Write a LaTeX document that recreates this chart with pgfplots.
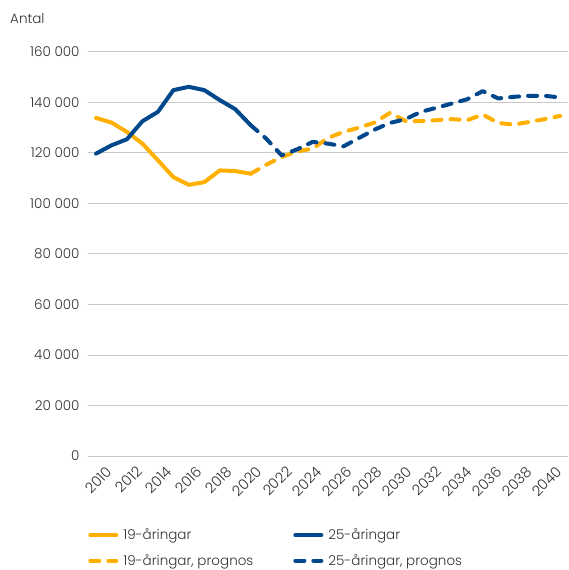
\documentclass[border=0pt]{standalone}
\usepackage{pgfplots}
\pgfplotsset{compat=1.18}
\usepackage{fontspec}
\setmainfont{Poppins}[UprightFont={* Light}]
\definecolor{cyel}{HTML}{FFB000}
\definecolor{cblue}{HTML}{00478C}
\definecolor{ctxt}{HTML}{333333}
\definecolor{cgrid}{HTML}{C8C8C8}
\begin{document}
\begin{tikzpicture}
\useasboundingbox (-88pt,-114pt) rectangle (480pt,456pt);
\begin{axis}[
  at={(0,0)}, anchor=south west,
  scale only axis, width=480pt, height=404pt,
  xmin=2009.48, xmax=2040.51, ymin=0, ymax=160000,
  axis line style={draw=none},
  tick style={draw=none},
  ymajorgrids, grid style={cgrid, line width=1pt},
  scaled y ticks=false,
  ytick={0,20000,40000,60000,80000,100000,120000,140000,160000},
  yticklabels={0,20 000,40 000,60 000,80 000,100 000,120 000,140 000,160 000},
  xtick={2010.33,2012.27,2014.21,2016.15,2018.09,2020.03,2021.97,2023.91,2025.85,2027.78,2029.72,2031.66,2033.60,2035.54,2037.48,2039.42},
  xticklabels={2010,2012,2014,2016,2018,2020,2022,2024,2026,2028,2030,2032,2034,2036,2038,2040},
  yticklabel style={font=\fontsize{13.5}{16}\selectfont, color=ctxt, xshift=-5pt},
  xticklabel style={font=\fontsize{14.5}{16}\selectfont, color=ctxt, rotate=45, anchor=north east, yshift=-6pt},
  legend columns=2,
  legend cell align=left,
  legend style={draw=none, fill=none, at={(-0.006,-0.17)}, anchor=north west,
    font=\fontsize{13.5}{16}\selectfont, text=ctxt,
    /tikz/every even column/.append style={column sep=38pt},
    row sep=9pt},
  legend image code/.code={\draw[#1, line width=4pt] (0pt,0pt) -- (26pt,0pt); \path (29pt,0pt);},
  clip=false,
]
\addplot[cyel, line width=4pt, line join=round, line cap=round] coordinates {
(2010,133900)(2011,132050)(2012,128350)(2013,123700)(2014,117100)(2015,110450)(2016,107400)(2017,108450)(2018,113100)(2019,112850)(2020,111800)};
\addlegendentry{19-åringar}
\addplot[cblue, line width=4pt, line join=round, line cap=round] coordinates {
(2010,119750)(2011,123050)(2012,125450)(2013,132600)(2014,136300)(2015,144900)(2016,146200)(2017,144900)(2018,140950)(2019,137350)(2020,131000)};
\addlegendentry{25-åringar}
\addplot[cyel, line width=4pt, line join=round, line cap=round, dash pattern=on 9pt off 9pt] coordinates {
(2020,111800)(2021,115350)(2022,118400)(2023,120650)(2024,121700)(2025,126000)(2026,128350)(2027,130050)(2028,132050)(2029,135900)(2030,132700)(2031,132600)(2032,133000)(2033,133400)(2034,133000)(2035,135250)(2036,131900)(2037,131250)(2038,132300)(2039,133400)(2040,134700)};
\addlegendentry{19-åringar, prognos}
\addplot[cblue, line width=4pt, line join=round, line cap=round, dash pattern=on 9pt off 9pt] coordinates {
(2020,131000)(2021,125700)(2022,119050)(2023,121450)(2024,124400)(2025,123700)(2026,122650)(2027,125950)(2028,129250)(2029,131900)(2030,133400)(2031,136300)(2032,137900)(2033,139600)(2034,141300)(2035,144500)(2036,141600)(2037,142250)(2038,142650)(2039,142650)(2040,142000)};
\addlegendentry{25-åringar, prognos}
\end{axis}
\node[anchor=base west, font=\fontsize{13.5}{16}\selectfont, text=ctxt, inner sep=0pt] at (-78pt,432pt) {Antal};
\end{tikzpicture}
\end{document}
